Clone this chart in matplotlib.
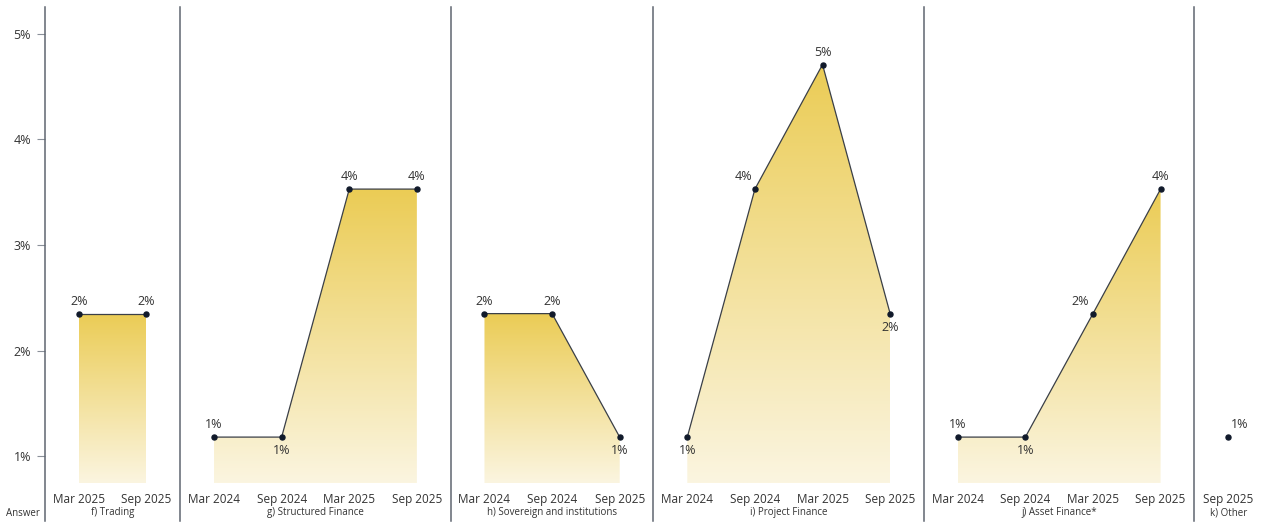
import numpy as np
import matplotlib
matplotlib.use("Agg")
import matplotlib.pyplot as plt
from matplotlib.lines import Line2D
from matplotlib.patches import PathPatch
from matplotlib.colors import LinearSegmentedColormap

plt.rcParams["font.family"] = ["Open Sans", "DejaVu Sans"]

# Panels: title, period labels, shares (%)
titles = ["f) Trading", "g) Structured Finance", "h) Sovereign and institutions",
          "i) Project Finance", "j) Asset Finance*", "k) Other"]
periods = [
    ["Mar 2025", "Sep 2025"],
    ["Mar 2024", "Sep 2024", "Mar 2025", "Sep 2025"],
    ["Mar 2024", "Sep 2024", "Sep 2025"],
    ["Mar 2024", "Sep 2024", "Mar 2025", "Sep 2025"],
    ["Mar 2024", "Sep 2024", "Mar 2025", "Sep 2025"],
    ["Sep 2025"],
]
trading = [2.35, 2.35]
structured = [1.18, 1.18, 3.53, 3.53]
sovereign = [2.35, 2.35, 1.18]
project = [1.18, 3.53, 4.71, 2.35]
asset = [1.18, 1.18, 2.35, 3.53]
other = [1.18]
series = [trading, structured, sovereign, project, asset, other]

# Label placement per point: (dx points, dy points)
A, B = 9, -10
offsets = [
    [(0, A), (0, A)],
    [(0, A), (0, B), (0, A), (0, A)],
    [(0, A), (0, A), (0, B)],
    [(0, B), (-8, A), (0, A), (0, B)],
    [(0, A), (0, B), (-9, A), (0, A)],
    [(8, A)],
]

y_ticks = [1, 2, 3, 4, 5]
ymin, ymax = 0.745, 5.246

W, H = 1262, 525
fig = plt.figure(figsize=(W / 100, H / 100), dpi=100)
left, right = 45 / W, 1.0
bottom, top = 1 - 483 / H, 1 - 8 / H
gs = fig.add_gridspec(1, len(series), width_ratios=[len(p) for p in periods],
                      left=left, right=right, bottom=bottom, top=top, wspace=0)

cmap = LinearSegmentedColormap.from_list("gold", ["#fbf5e0", "#ebcc55"])
grad = np.linspace(0, 1, 256).reshape(-1, 1)

text_col = "#333333"
axes = []
for i, (vals, labs, title) in enumerate(zip(series, periods, titles)):
    ax = fig.add_subplot(gs[0, i])
    axes.append(ax)
    x = np.arange(len(vals))
    ax.set_xlim(-0.5, len(vals) - 0.5)
    ax.set_ylim(ymin, ymax)
    for s in ax.spines.values():
        s.set_visible(False)

    if len(vals) > 1:
        poly = ax.fill_between(x, vals, ymin, facecolor="none", edgecolor="none")
        path = poly.get_paths()[0]
        clip = PathPatch(path, transform=ax.transData, facecolor="none", edgecolor="none")
        ax.add_patch(clip)
        im = ax.imshow(grad, cmap=cmap, origin="lower", aspect="auto",
                       extent=[x[0], x[-1], ymin, max(vals)], zorder=1)
        im.set_clip_path(clip)
        ax.set_xlim(-0.5, len(vals) - 0.5)
        ax.set_ylim(ymin, ymax)
        ax.plot(x, vals, color="#3a3f47", lw=0.9, zorder=2)
    ax.scatter(x, vals, s=13, color="#111a2b", zorder=3)

    for xi, v, (dx, dy) in zip(x, vals, offsets[i]):
        ax.annotate(f"{v:.0f}%", (xi, v), xytext=(dx, dy), textcoords="offset points",
                    ha="center", va="center", fontsize=9, color=text_col, zorder=4)

    ax.set_xticks(x)
    ax.set_xticklabels(labs, fontsize=8.5, color=text_col)
    ax.tick_params(axis="x", length=0, pad=7)
    bb = ax.get_position()
    fig.text((bb.x0 + bb.x1) / 2, 1 - 513 / H, title, ha="center", va="center",
             fontsize=7, color=text_col)

    if i == 0:
        ax.set_yticks(y_ticks)
        ax.set_yticklabels([f"{t}%" for t in y_ticks], fontsize=9, color=text_col)
        ax.tick_params(axis="y", length=6, width=0.8, color="#8a9099", pad=4)
    else:
        ax.set_yticks([])

# Panel separators, running down through the label area
for ax in axes:
    bb = ax.get_position()
    fig.add_artist(Line2D([bb.x0, bb.x0], [1 - 521 / H, 1 - 7 / H],
                          transform=fig.transFigure, color="#5f6670", lw=1.1))

fig.text(23 / W, 1 - 513 / H, "Answer", ha="center", va="center",
         fontsize=7, color=text_col)

fig.savefig("out.png", dpi=100)
